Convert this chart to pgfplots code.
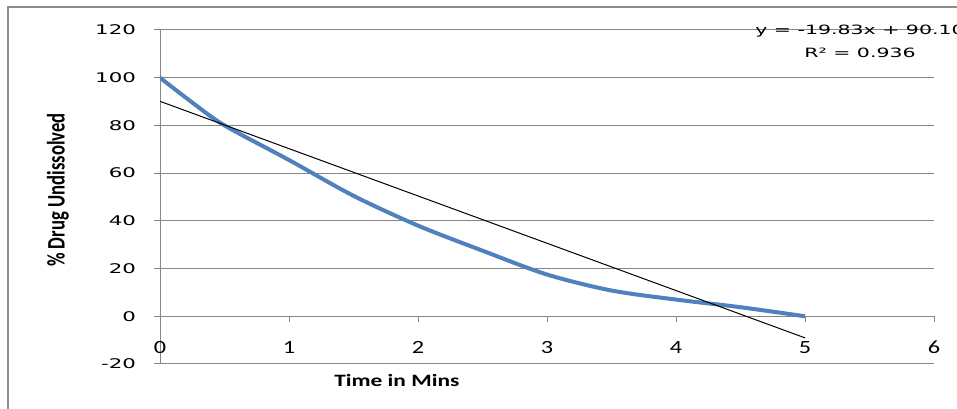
\documentclass[border=0pt]{standalone}
\usepackage{pgfplots}
\pgfplotsset{compat=1.18}
\usepackage{fontspec}
\setmainfont{DejaVu Sans}
\newfontfamily\verd{DejaVu Sans}
\newfontfamily\carl{Carlito}
\definecolor{gridgray}{HTML}{868686}
\definecolor{bordergray}{HTML}{8C8C8C}
\definecolor{excelblue}{HTML}{4F81BD}
\begin{document}
\begin{tikzpicture}
\path[use as bounding box] (0,0) rectangle (717.75pt,306.75pt);
\fill[white] (0,0) rectangle (717.75pt,306.75pt);
\draw[bordergray, line width=1.5pt] (6pt,-5pt) -- (6pt,301.5pt) -- (730pt,301.5pt);
\begin{axis}[
  at={(120pt,33.75pt)}, anchor=south west,
  scale only axis, width=580.5pt, height=250.5pt,
  xmin=-0.0001, xmax=6, ymin=-20, ymax=120,
  axis x line*=middle, axis y line*=left,
  xtick={0,1,2,3,4,5,6}, ytick={-20,0,20,40,60,80,100,120},
  ymajorgrids, grid style={draw=gridgray, line width=0.75pt},
  axis line style={draw=gridgray, line width=0.75pt},
  tick style={draw=gridgray, line width=0.75pt},
  tick align=outside, major tick length=4.5pt,
  yticklabel={\scalebox{1.6}[1]{\pgfmathprintnumber[assume math mode=true]{\tick}}},
  yticklabel style={font=\verd\fontsize{10}{12}\selectfont, anchor=east, xshift=-10pt},
  xticklabel={\scalebox{1.3}[1]{\pgfmathprintnumber[assume math mode=true]{\tick}}},
  xticklabel style={font=\carl\fontsize{14}{16}\selectfont, anchor=center, yshift=-18.75pt},
  xlabel={\scalebox{1.35}[1]{\bfseries Time in Mins}},
  xlabel style={font=\carl\fontsize{13}{15}\selectfont, at={(axis description cs:0.306,0)}, anchor=center, yshift=-12pt},
  ylabel={\scalebox{1}[1.35]{\bfseries \% Drug Undissolved}},
  ylabel style={font=\carl\fontsize{14}{16}\selectfont, at={(axis description cs:0,0.521)}, anchor=center, yshift=76.5pt},
]
\addplot[excelblue, line width=3pt, smooth] coordinates {
 (0,100) (0.25,89.6) (0.5,80) (1,65.5) (1.5,50.5) (2,38) (2.5,27.5) (3,17.5) (3.5,10.8) (4,7) (4.5,3.8) (5,0)
};
\addplot[black, line width=0.75pt] coordinates {(0,90.10) (5,-9.05)};
\end{axis}
\node[align=center, font=\verd\fontsize{9.6}{17.25}\selectfont, inner sep=0pt] at (645pt,275.6pt)
  {\scalebox{1.6}[1]{y = -19.83x + 90.10}\\\scalebox{1.6}[1]{R² = 0.936}};
\end{tikzpicture}
\end{document}
